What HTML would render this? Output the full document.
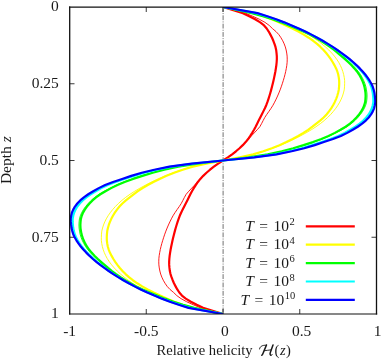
<!DOCTYPE html>
<html><head><meta charset="utf-8"><title>Relative helicity</title><style>html,body{margin:0;padding:0;background:#fff}svg{will-change:transform}</style></head><body>
<svg width="382" height="359" viewBox="0 0 382 359" style="display:block;font-family:'Liberation Serif',serif;font-size:15.5px" fill="#1a1a1a">
<rect width="382" height="359" fill="#fff"/>
<path d="M223.1,7.0 V314.0" stroke="#333" stroke-width="0.7" stroke-dasharray="4.8,1.3,0.95,1.3" stroke-dashoffset="0" fill="none"/>
<path d="M69.5,83.75 h5.0 M376.5,83.75 h-5.0 M69.5,160.5 h5.0 M376.5,160.5 h-5.0 M69.5,237.25 h5.0 M376.5,237.25 h-5.0 M146.25,314.0 v-5.0 M146.25,7.0 v5.0 M223.0,314.0 v-5.0 M223.0,7.0 v5.0 M299.75,314.0 v-5.0 M299.75,7.0 v5.0" stroke="#222" stroke-width="0.9" fill="none"/>
<clipPath id="cp"><rect x="69.5" y="7.0" width="307.0" height="307.0"/></clipPath>
<g fill="none" stroke-linejoin="round" stroke-linecap="butt" clip-path="url(#cp)">
<path d="M223.00,7.00 L242.94,13.14 L249.25,16.21 L255.11,19.28 L260.24,22.35 L264.06,25.42 L266.69,28.49 L268.71,31.56 L270.40,34.63 L272.02,37.70 L273.32,40.77 L274.48,43.84 L275.48,46.91 L276.16,49.98 L276.54,53.05 L276.81,56.12 L276.84,59.19 L276.65,62.26 L276.33,65.33 L275.88,68.40 L275.37,71.47 L274.78,74.54 L274.14,77.61 L273.45,80.68 L272.73,83.75 L271.97,86.82 L271.17,89.89 L270.31,92.96 L269.40,96.03 L268.42,99.10 L267.38,102.17 L266.25,105.24 L264.88,108.31 L263.34,111.38 L261.77,114.45 L260.26,117.52 L258.68,120.59 L257.14,123.66 L255.64,126.73 L254.04,129.80 L252.21,132.87 L250.26,135.94 L248.12,139.01 L245.67,142.08 L242.79,145.15 L239.53,148.22 L236.00,151.29 L232.14,154.36 L227.87,157.43 L223.00,160.50 L218.13,163.57 L213.86,166.64 L210.00,169.71 L206.47,172.78 L203.21,175.85 L200.33,178.92 L197.88,181.99 L195.74,185.06 L193.79,188.13 L191.96,191.20 L190.36,194.27 L188.86,197.34 L187.32,200.41 L185.74,203.48 L184.23,206.55 L182.66,209.62 L181.12,212.69 L179.75,215.76 L178.62,218.83 L177.58,221.90 L176.60,224.97 L175.69,228.04 L174.83,231.11 L174.03,234.18 L173.27,237.25 L172.55,240.32 L171.86,243.39 L171.22,246.46 L170.63,249.53 L170.12,252.60 L169.67,255.67 L169.35,258.74 L169.16,261.81 L169.19,264.88 L169.46,267.95 L169.84,271.02 L170.52,274.09 L171.52,277.16 L172.68,280.23 L173.98,283.30 L175.60,286.37 L177.29,289.44 L179.31,292.51 L181.94,295.58 L185.76,298.65 L190.89,301.72 L196.75,304.79 L203.06,307.86 L223.00,314.00" stroke="#ff0000" stroke-width="2.2"/>
<path d="M223.00,7.00 L245.38,13.14 L252.66,16.21 L259.35,19.28 L264.96,22.35 L269.20,25.42 L272.36,28.49 L275.99,31.56 L278.85,34.63 L280.95,37.70 L282.72,40.77 L284.17,43.84 L285.32,46.91 L286.14,49.98 L286.72,53.05 L287.12,56.12 L287.22,59.19 L287.13,62.26 L286.81,65.33 L286.31,68.40 L285.70,71.47 L284.97,74.54 L284.16,77.61 L283.25,80.68 L282.28,83.75 L281.24,86.82 L280.12,89.89 L278.89,92.96 L277.57,96.03 L276.15,99.10 L274.62,102.17 L272.97,105.24 L271.05,108.31 L268.93,111.38 L266.76,114.45 L264.75,117.52 L263.13,120.59 L261.55,123.66 L259.83,126.73 L257.16,129.80 L254.28,132.87 L251.39,135.94 L248.61,139.01 L245.73,142.08 L242.55,145.15 L239.09,148.22 L235.47,151.29 L231.65,154.36 L227.55,157.43 L223.00,160.50 L218.45,163.57 L214.35,166.64 L210.53,169.71 L206.91,172.78 L203.45,175.85 L200.27,178.92 L197.39,181.99 L194.61,185.06 L191.72,188.13 L188.84,191.20 L186.17,194.27 L184.45,197.34 L182.87,200.41 L181.25,203.48 L179.24,206.55 L177.07,209.62 L174.95,212.69 L173.03,215.76 L171.38,218.83 L169.85,221.90 L168.43,224.97 L167.11,228.04 L165.88,231.11 L164.76,234.18 L163.72,237.25 L162.75,240.32 L161.84,243.39 L161.03,246.46 L160.30,249.53 L159.69,252.60 L159.19,255.67 L158.87,258.74 L158.78,261.81 L158.88,264.88 L159.28,267.95 L159.86,271.02 L160.68,274.09 L161.83,277.16 L163.28,280.23 L165.05,283.30 L167.15,286.37 L170.01,289.44 L173.64,292.51 L176.80,295.58 L181.04,298.65 L186.65,301.72 L193.34,304.79 L200.62,307.86 L223.00,314.00" stroke="#ff0000" stroke-width="0.9"/>
<path d="M223.00,7.00 L253.75,13.14 L263.41,16.21 L271.51,19.28 L278.82,22.35 L285.81,25.42 L292.34,28.49 L298.33,31.56 L303.77,34.63 L308.72,37.70 L313.19,40.77 L317.06,43.84 L320.45,46.91 L323.50,49.98 L326.17,53.05 L328.62,56.12 L330.79,59.19 L332.76,62.26 L334.52,65.33 L336.11,68.40 L337.32,71.47 L338.23,74.54 L338.79,77.61 L339.17,80.68 L339.22,83.75 L339.06,86.82 L338.76,89.89 L338.08,92.96 L337.21,96.03 L336.06,99.10 L334.70,102.17 L333.06,105.24 L331.17,108.31 L328.99,111.38 L326.53,114.45 L323.61,117.52 L320.11,120.59 L316.29,123.66 L312.37,126.73 L308.08,129.80 L303.38,132.87 L298.22,135.94 L292.57,139.01 L286.35,142.08 L279.48,145.15 L271.84,148.22 L263.30,151.29 L253.18,154.36 L239.86,157.43 L223.00,160.50 L206.14,163.57 L192.82,166.64 L182.70,169.71 L174.16,172.78 L166.52,175.85 L159.65,178.92 L153.43,181.99 L147.78,185.06 L142.62,188.13 L137.92,191.20 L133.63,194.27 L129.71,197.34 L125.89,200.41 L122.39,203.48 L119.47,206.55 L117.01,209.62 L114.83,212.69 L112.94,215.76 L111.30,218.83 L109.94,221.90 L108.79,224.97 L107.92,228.04 L107.24,231.11 L106.94,234.18 L106.78,237.25 L106.83,240.32 L107.21,243.39 L107.77,246.46 L108.68,249.53 L109.89,252.60 L111.48,255.67 L113.24,258.74 L115.21,261.81 L117.38,264.88 L119.83,267.95 L122.50,271.02 L125.55,274.09 L128.94,277.16 L132.81,280.23 L137.28,283.30 L142.23,286.37 L147.67,289.44 L153.66,292.51 L160.19,295.58 L167.18,298.65 L174.49,301.72 L182.59,304.79 L192.25,307.86 L223.00,314.00" stroke="#ffff00" stroke-width="2.2"/>
<path d="M223.00,7.00 L256.17,13.14 L266.65,16.21 L275.47,19.28 L283.29,22.35 L290.47,25.42 L297.01,28.49 L302.98,31.56 L308.38,34.63 L313.29,37.70 L317.75,40.77 L321.80,43.84 L325.46,46.91 L328.76,49.98 L331.72,53.05 L334.35,56.12 L336.67,59.19 L338.66,62.26 L340.32,65.33 L341.69,68.40 L342.80,71.47 L343.67,74.54 L344.27,77.61 L344.66,80.68 L344.65,83.75 L344.53,86.82 L344.21,89.89 L343.45,92.96 L342.50,96.03 L341.23,99.10 L339.72,102.17 L337.88,105.24 L335.79,108.31 L333.37,111.38 L330.68,114.45 L327.61,117.52 L324.16,120.59 L320.30,123.66 L316.02,126.73 L311.25,129.80 L306.05,132.87 L300.35,135.94 L294.28,139.01 L287.78,142.08 L280.66,145.15 L272.72,148.22 L263.98,151.29 L253.57,154.36 L239.87,157.43 L223.00,160.50 L206.13,163.57 L192.43,166.64 L182.02,169.71 L173.28,172.78 L165.34,175.85 L158.22,178.92 L151.72,181.99 L145.65,185.06 L139.95,188.13 L134.75,191.20 L129.98,194.27 L125.70,197.34 L121.84,200.41 L118.39,203.48 L115.32,206.55 L112.63,209.62 L110.21,212.69 L108.12,215.76 L106.28,218.83 L104.77,221.90 L103.50,224.97 L102.55,228.04 L101.79,231.11 L101.47,234.18 L101.35,237.25 L101.34,240.32 L101.73,243.39 L102.33,246.46 L103.20,249.53 L104.31,252.60 L105.68,255.67 L107.34,258.74 L109.33,261.81 L111.65,264.88 L114.28,267.95 L117.24,271.02 L120.54,274.09 L124.20,277.16 L128.25,280.23 L132.71,283.30 L137.62,286.37 L143.02,289.44 L148.99,292.51 L155.53,295.58 L162.71,298.65 L170.53,301.72 L179.35,304.79 L189.83,307.86 L223.00,314.00" stroke="#ffff00" stroke-width="0.9"/>
<path d="M223.00,7.00 L251.77,13.14 L262.94,16.21 L272.59,19.28 L281.10,22.35 L288.95,25.42 L296.35,28.49 L303.37,31.56 L309.81,34.63 L315.59,37.70 L320.75,40.77 L325.51,43.84 L329.93,46.91 L334.07,49.98 L337.89,53.05 L341.50,56.12 L344.96,59.19 L348.35,62.26 L351.50,65.33 L354.37,68.40 L356.96,71.47 L359.11,74.54 L360.88,77.61 L362.34,80.68 L363.54,83.75 L364.45,86.82 L365.02,89.89 L365.47,92.96 L365.60,96.03 L365.44,99.10 L365.11,102.17 L364.22,105.24 L362.94,108.31 L361.20,111.38 L359.06,114.45 L356.46,117.52 L353.48,120.59 L349.94,123.66 L345.64,126.73 L340.49,129.80 L334.83,132.87 L328.51,135.94 L321.33,139.01 L312.94,142.08 L303.56,145.15 L293.27,148.22 L281.71,151.29 L267.77,154.36 L248.54,157.43 L223.00,160.50 L197.46,163.57 L178.23,166.64 L164.29,169.71 L152.73,172.78 L142.44,175.85 L133.06,178.92 L124.67,181.99 L117.49,185.06 L111.17,188.13 L105.51,191.20 L100.36,194.27 L96.06,197.34 L92.52,200.41 L89.54,203.48 L86.94,206.55 L84.80,209.62 L83.06,212.69 L81.78,215.76 L80.89,218.83 L80.56,221.90 L80.40,224.97 L80.53,228.04 L80.98,231.11 L81.55,234.18 L82.46,237.25 L83.66,240.32 L85.12,243.39 L86.89,246.46 L89.04,249.53 L91.63,252.60 L94.50,255.67 L97.65,258.74 L101.04,261.81 L104.50,264.88 L108.11,267.95 L111.93,271.02 L116.07,274.09 L120.49,277.16 L125.25,280.23 L130.41,283.30 L136.19,286.37 L142.63,289.44 L149.65,292.51 L157.05,295.58 L164.90,298.65 L173.41,301.72 L183.06,304.79 L194.23,307.86 L223.00,314.00" stroke="#00ff00" stroke-width="2.2"/>
<path d="M223.00,7.00 L252.06,13.14 L263.35,16.21 L273.10,19.28 L281.70,22.35 L289.62,25.42 L297.10,28.49 L304.19,31.56 L310.70,34.63 L316.53,37.70 L321.75,40.77 L326.55,43.84 L331.03,46.91 L335.21,49.98 L339.07,53.05 L342.71,56.12 L346.20,59.19 L349.63,62.26 L352.82,65.33 L355.72,68.40 L358.33,71.47 L360.50,74.54 L362.29,77.61 L363.77,80.68 L364.98,83.75 L365.90,86.82 L366.47,89.89 L366.92,92.96 L367.06,96.03 L366.90,99.10 L366.56,102.17 L365.66,105.24 L364.37,108.31 L362.61,111.38 L360.45,114.45 L357.83,117.52 L354.82,120.59 L351.24,123.66 L346.90,126.73 L341.69,129.80 L335.97,132.87 L329.59,135.94 L322.34,139.01 L313.86,142.08 L304.38,145.15 L293.99,148.22 L282.31,151.29 L268.22,154.36 L248.80,157.43 L223.00,160.50 L197.20,163.57 L177.78,166.64 L163.69,169.71 L152.01,172.78 L141.62,175.85 L132.14,178.92 L123.66,181.99 L116.41,185.06 L110.03,188.13 L104.31,191.20 L99.10,194.27 L94.76,197.34 L91.18,200.41 L88.17,203.48 L85.55,206.55 L83.39,209.62 L81.63,212.69 L80.34,215.76 L79.44,218.83 L79.10,221.90 L78.94,224.97 L79.08,228.04 L79.53,231.11 L80.10,234.18 L81.02,237.25 L82.23,240.32 L83.71,243.39 L85.50,246.46 L87.67,249.53 L90.28,252.60 L93.18,255.67 L96.37,258.74 L99.80,261.81 L103.29,264.88 L106.93,267.95 L110.79,271.02 L114.97,274.09 L119.45,277.16 L124.25,280.23 L129.47,283.30 L135.30,286.37 L141.81,289.44 L148.90,292.51 L156.38,295.58 L164.30,298.65 L172.90,301.72 L182.65,304.79 L193.94,307.86 L223.00,314.00" stroke="#00ff00" stroke-width="0.9"/>
<path d="M223.00,7.00 L256.21,13.14 L266.42,16.21 L275.45,19.28 L283.65,22.35 L291.25,25.42 L298.37,28.49 L305.09,31.56 L311.34,34.63 L317.15,37.70 L322.56,40.77 L327.62,43.84 L332.40,46.91 L336.90,49.98 L341.15,53.05 L345.17,56.12 L348.96,59.19 L352.54,62.26 L355.87,65.33 L358.94,68.40 L361.74,71.47 L364.24,74.54 L366.44,77.61 L368.34,80.68 L369.97,83.75 L371.25,86.82 L372.12,89.89 L372.77,92.96 L373.12,96.03 L373.32,99.10 L373.31,102.17 L372.77,105.24 L371.89,108.31 L370.48,111.38 L368.64,114.45 L366.24,117.52 L363.30,120.59 L359.63,123.66 L355.28,126.73 L350.24,129.80 L344.66,132.87 L338.28,135.94 L330.53,139.01 L321.60,142.08 L312.35,145.15 L301.84,148.22 L289.52,151.29 L274.59,154.36 L252.92,157.43 L223.00,160.50 L193.08,163.57 L171.41,166.64 L156.48,169.71 L144.16,172.78 L133.65,175.85 L124.40,178.92 L115.47,181.99 L107.72,185.06 L101.34,188.13 L95.76,191.20 L90.72,194.27 L86.37,197.34 L82.70,200.41 L79.76,203.48 L77.36,206.55 L75.52,209.62 L74.11,212.69 L73.23,215.76 L72.69,218.83 L72.68,221.90 L72.88,224.97 L73.23,228.04 L73.88,231.11 L74.75,234.18 L76.03,237.25 L77.66,240.32 L79.56,243.39 L81.76,246.46 L84.26,249.53 L87.06,252.60 L90.13,255.67 L93.46,258.74 L97.04,261.81 L100.83,264.88 L104.85,267.95 L109.10,271.02 L113.60,274.09 L118.38,277.16 L123.44,280.23 L128.85,283.30 L134.66,286.37 L140.91,289.44 L147.63,292.51 L154.75,295.58 L162.35,298.65 L170.55,301.72 L179.58,304.79 L189.79,307.86 L223.00,314.00" stroke="#00ffff" stroke-width="2.2"/>
<path d="M223.00,7.00 L256.75,13.14 L266.83,16.21 L275.79,19.28 L283.95,22.35 L291.51,25.42 L298.60,28.49 L305.27,31.56 L311.50,34.63 L317.31,37.70 L322.75,40.77 L327.85,43.84 L332.66,46.91 L337.21,49.98 L341.51,53.05 L345.58,56.12 L349.41,59.19 L353.01,62.26 L356.37,65.33 L359.46,68.40 L362.29,71.47 L364.82,74.54 L367.07,77.61 L369.03,80.68 L370.71,83.75 L372.04,86.82 L372.95,89.89 L373.62,92.96 L374.00,96.03 L374.24,99.10 L374.28,102.17 L373.78,105.24 L372.96,108.31 L371.59,111.38 L369.78,114.45 L367.41,117.52 L364.47,120.59 L360.79,123.66 L356.44,126.73 L351.41,129.80 L345.85,132.87 L339.46,135.94 L331.64,139.01 L322.65,142.08 L313.42,145.15 L302.88,148.22 L290.47,151.29 L275.42,154.36 L253.46,157.43 L223.00,160.50 L192.54,163.57 L170.58,166.64 L155.53,169.71 L143.12,172.78 L132.58,175.85 L123.35,178.92 L114.36,181.99 L106.54,185.06 L100.15,188.13 L94.59,191.20 L89.56,194.27 L85.21,197.34 L81.53,200.41 L78.59,203.48 L76.22,206.55 L74.41,209.62 L73.04,212.69 L72.22,215.76 L71.72,218.83 L71.76,221.90 L72.00,224.97 L72.38,228.04 L73.05,231.11 L73.96,234.18 L75.29,237.25 L76.97,240.32 L78.93,243.39 L81.18,246.46 L83.71,249.53 L86.54,252.60 L89.63,255.67 L92.99,258.74 L96.59,261.81 L100.42,264.88 L104.49,267.95 L108.79,271.02 L113.34,274.09 L118.15,277.16 L123.25,280.23 L128.69,283.30 L134.50,286.37 L140.73,289.44 L147.40,292.51 L154.49,295.58 L162.05,298.65 L170.21,301.72 L179.17,304.79 L189.25,307.86 L223.00,314.00" stroke="#00ffff" stroke-width="0.9"/>
<path d="M223.00,7.00 L257.47,13.14 L267.33,16.21 L276.14,19.28 L284.20,22.35 L291.69,25.42 L298.70,28.49 L305.29,31.56 L311.46,34.63 L317.25,37.70 L322.71,40.77 L327.86,43.84 L332.72,46.91 L337.32,49.98 L341.68,53.05 L345.81,56.12 L349.69,59.19 L353.32,62.26 L356.69,65.33 L359.81,68.40 L362.67,71.47 L365.26,74.54 L367.59,77.61 L369.62,80.68 L371.38,83.75 L372.77,86.82 L373.73,89.89 L374.45,92.96 L374.86,96.03 L375.17,99.10 L375.27,102.17 L374.84,105.24 L374.10,108.31 L372.80,111.38 L371.06,114.45 L368.73,117.52 L365.81,120.59 L362.12,123.66 L357.77,126.73 L352.78,129.80 L347.26,132.87 L340.88,135.94 L332.98,139.01 L323.92,142.08 L314.75,145.15 L304.21,148.22 L291.70,151.29 L276.53,154.36 L254.18,157.43 L223.00,160.50 L191.82,163.57 L169.47,166.64 L154.30,169.71 L141.79,172.78 L131.25,175.85 L122.08,178.92 L113.02,181.99 L105.12,185.06 L98.74,188.13 L93.22,191.20 L88.23,194.27 L83.88,197.34 L80.19,200.41 L77.27,203.48 L74.94,206.55 L73.20,209.62 L71.90,212.69 L71.16,215.76 L70.73,218.83 L70.83,221.90 L71.14,224.97 L71.55,228.04 L72.27,231.11 L73.23,234.18 L74.62,237.25 L76.38,240.32 L78.41,243.39 L80.74,246.46 L83.33,249.53 L86.19,252.60 L89.31,255.67 L92.68,258.74 L96.31,261.81 L100.19,264.88 L104.32,267.95 L108.68,271.02 L113.28,274.09 L118.14,277.16 L123.29,280.23 L128.75,283.30 L134.54,286.37 L140.71,289.44 L147.30,292.51 L154.31,295.58 L161.80,298.65 L169.86,301.72 L178.67,304.79 L188.53,307.86 L223.00,314.00" stroke="#0000ff" stroke-width="2.2"/>
</g>
<path d="M69.7,6.6 V314.6 M376.5,6.6 V314.6" stroke="#111" stroke-width="1.3" fill="none"/><path d="M69.0,7.15 H377.2" stroke="#111" stroke-width="1.35" fill="none"/><path d="M69.0,314.0 H377.2" stroke="#111" stroke-width="1.15" fill="none"/>
<text x="58.8" y="11.4" text-anchor="end">0</text>
<text x="58.8" y="88.2" text-anchor="end">0.25</text>
<text x="58.8" y="164.9" text-anchor="end">0.5</text>
<text x="58.8" y="241.7" text-anchor="end">0.75</text>
<text x="58.8" y="318.4" text-anchor="end">1</text>
<text x="69.6" y="336.3" text-anchor="middle">-1</text>
<text x="146.3" y="336.3" text-anchor="middle">-0.5</text>
<text x="224.9" y="336.3" text-anchor="middle">0</text>
<text x="301.6" y="336.3" text-anchor="middle">0.5</text>
<text x="377.5" y="336.3" text-anchor="middle">1</text>
<text transform="translate(10.8,160.2) rotate(-90)" text-anchor="middle">Depth <tspan font-style="italic">z</tspan></text>
<text x="156.6" y="354.6" font-size="14.6">Relative helicity</text>
<g fill="none" stroke="#1a1a1a" stroke-linecap="round" stroke-linejoin="round"><path d="M259.5,349.0 C259.5,347.3 261.3,345.7 263.8,345.35 C264.9,345.2 265.8,345.1 266.4,345.1" stroke-width="0.9"/><path d="M266.5,345.0 L263.4,352.4 C262.9,353.7 262.5,354.7 261.8,355.3" stroke-width="1.5"/><path d="M264.4,350.65 C266.5,350.1 269,350.45 271.3,349.9" stroke-width="0.9"/><path d="M273.0,344.9 L270.4,352.3 C269.9,353.8 269.9,355.0 270.9,355.2" stroke-width="1.5"/><path d="M270.9,355.2 C271.5,355.3 272.0,355.0 272.5,354.4" stroke-width="0.8"/></g>
<text x="274.4" y="354.6" font-size="14.6">(<tspan font-style="italic" dx="0.6">z</tspan><tspan dx="0.4">)</tspan></text>
<text x="245.2" y="230.9" xml:space="preserve"><tspan font-style="italic">T</tspan> <tspan dx="1.6">=</tspan> <tspan dx="1.6">10</tspan><tspan font-size="10.5" dy="-5.6" dx="0.4">2</tspan></text>
<path d="M305.8,226.3 H354.8" stroke="#ff0000" stroke-width="2.2" fill="none"/>
<text x="245.2" y="249.3" xml:space="preserve"><tspan font-style="italic">T</tspan> <tspan dx="1.6">=</tspan> <tspan dx="1.6">10</tspan><tspan font-size="10.5" dy="-5.6" dx="0.4">4</tspan></text>
<path d="M305.8,244.7 H354.8" stroke="#ffff00" stroke-width="2.2" fill="none"/>
<text x="245.2" y="267.7" xml:space="preserve"><tspan font-style="italic">T</tspan> <tspan dx="1.6">=</tspan> <tspan dx="1.6">10</tspan><tspan font-size="10.5" dy="-5.6" dx="0.4">6</tspan></text>
<path d="M305.8,263.1 H354.8" stroke="#00ff00" stroke-width="2.2" fill="none"/>
<text x="245.2" y="286.1" xml:space="preserve"><tspan font-style="italic">T</tspan> <tspan dx="1.6">=</tspan> <tspan dx="1.6">10</tspan><tspan font-size="10.5" dy="-5.6" dx="0.4">8</tspan></text>
<path d="M305.8,281.5 H354.8" stroke="#00ffff" stroke-width="2.2" fill="none"/>
<text x="240.4" y="304.5" xml:space="preserve"><tspan font-style="italic">T</tspan> <tspan dx="1.6">=</tspan> <tspan dx="1.6">10</tspan><tspan font-size="10.5" dy="-5.6" dx="0.4">10</tspan></text>
<path d="M305.8,299.9 H354.8" stroke="#0000ff" stroke-width="2.2" fill="none"/>
</svg>
</body></html>
